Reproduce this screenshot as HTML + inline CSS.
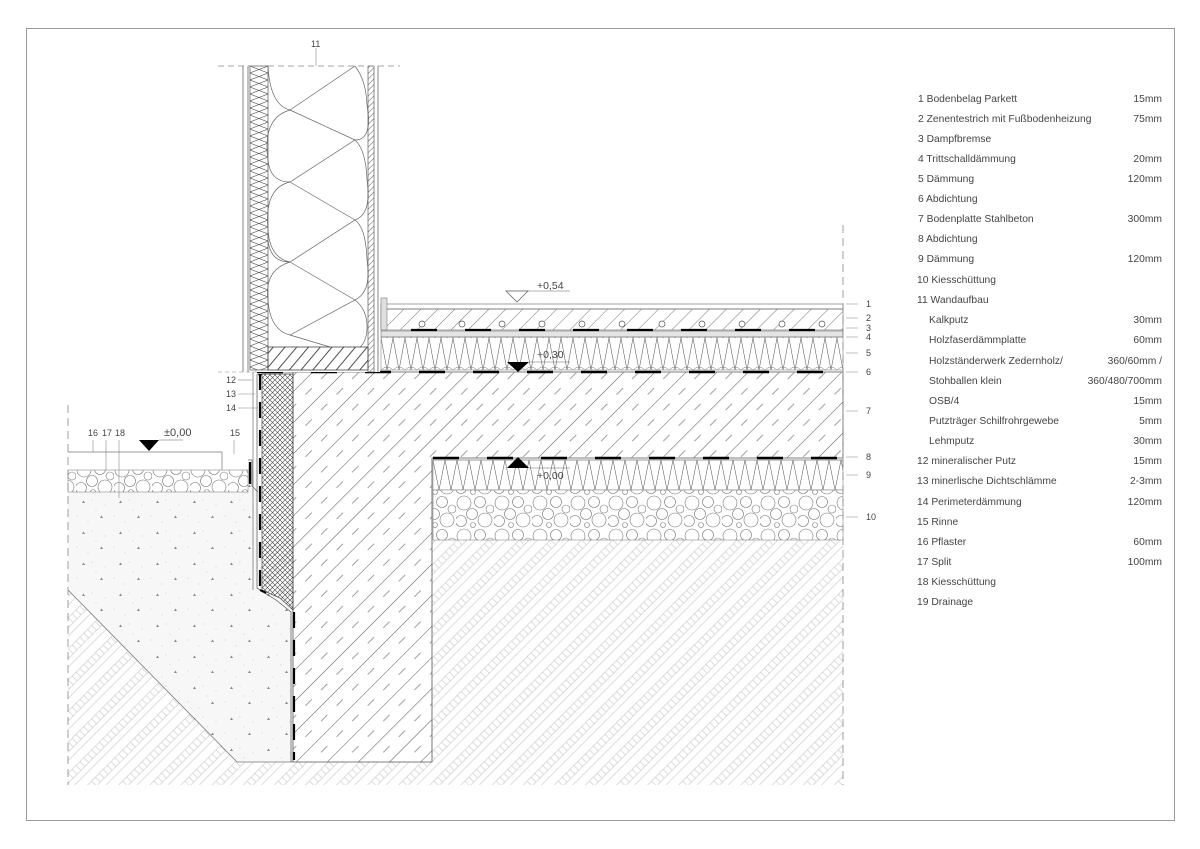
<!DOCTYPE html>
<html><head><meta charset="utf-8"><style>
html,body{margin:0;padding:0;background:#fff}
svg{display:block}
text{font-family:"Liberation Sans",sans-serif;fill:#444}
</style></head><body>
<svg width="1200" height="849" viewBox="0 0 1200 849" xmlns="http://www.w3.org/2000/svg">
<defs>
<pattern id="conc" patternUnits="userSpaceOnUse" width="22" height="22" patternTransform="rotate(-45)">
<line x1="0" y1="0" x2="22" y2="0" stroke="#555" stroke-width="0.9"/>
<line x1="3" y1="11" x2="12" y2="11" stroke="#777" stroke-width="0.7"/>
</pattern>
<pattern id="screed" patternUnits="userSpaceOnUse" width="12" height="12" patternTransform="rotate(-45)">
<line x1="0" y1="0" x2="12" y2="0" stroke="#555" stroke-width="0.8"/>
</pattern>
<pattern id="timber" patternUnits="userSpaceOnUse" width="9" height="9" patternTransform="rotate(-50)">
<line x1="0" y1="0" x2="9" y2="0" stroke="#222" stroke-width="1.6"/>
</pattern>
<pattern id="soil" patternUnits="userSpaceOnUse" width="22" height="22" patternTransform="rotate(-45)">
<line x1="0" y1="1" x2="22" y2="1" stroke="#bbb" stroke-width="0.6"/>
<line x1="0" y1="8" x2="22" y2="8" stroke="#bbb" stroke-width="0.6"/>
<line x1="2" y1="1" x2="2" y2="8" stroke="#bbb" stroke-width="0.5"/>
<line x1="7.5" y1="1" x2="7.5" y2="8" stroke="#bbb" stroke-width="0.5"/>
<line x1="13" y1="1" x2="13" y2="8" stroke="#bbb" stroke-width="0.5"/>
<line x1="18.5" y1="1" x2="18.5" y2="8" stroke="#bbb" stroke-width="0.5"/>
<line x1="0" y1="14" x2="22" y2="14" stroke="#bbb" stroke-width="0.6"/>
</pattern>
<pattern id="cross" patternUnits="userSpaceOnUse" width="5" height="5">
<path d="M0 0L5 5M5 0L0 5" stroke="#444" stroke-width="0.6"/>
</pattern>
<pattern id="ins" patternUnits="userSpaceOnUse" width="12" height="32" x="381" y="338">
<path d="M0 0L6 32L12 0" fill="none" stroke="#666" stroke-width="0.6"/>
<path d="M0 32Q6 26 12 32" fill="none" stroke="#777" stroke-width="0.5"/>
</pattern>
<pattern id="ins2" patternUnits="userSpaceOnUse" width="12" height="32" x="433" y="460">
<path d="M0 0L6 30L12 0" fill="none" stroke="#666" stroke-width="0.6"/>
</pattern>
<pattern id="gravel" patternUnits="userSpaceOnUse" width="38" height="33">
<g fill="#fff" stroke="#777" stroke-width="0.6">
<circle cx="8" cy="8" r="7"/><circle cx="24" cy="7" r="5.5"/><circle cx="34" cy="14" r="4"/>
<circle cx="16" cy="19" r="5.5"/><circle cx="5" cy="26" r="5.5"/><circle cx="29" cy="25" r="7"/><circle cx="17" cy="30" r="2.5"/>
</g></pattern>
<pattern id="fill" patternUnits="userSpaceOnUse" width="37" height="31">
<rect width="37" height="31" fill="#f7f7f7"/>
<path d="M8 7l1.5-2.5 1.5 2.5z M26 22l1.5-2.5 1.5 2.5z" fill="#888"/>
<circle cx="18" cy="4" r="0.5" fill="#bbb"/><circle cx="3" cy="20" r="0.5" fill="#bbb"/><circle cx="31" cy="9" r="0.5" fill="#bbb"/><circle cx="14" cy="26" r="0.5" fill="#bbb"/><circle cx="22" cy="14" r="0.5" fill="#bbb"/>
</pattern>
<pattern id="zig" patternUnits="userSpaceOnUse" width="18" height="14" x="250" y="66">
<path d="M0 0L18 7L0 14M18 0L0 7L18 14" fill="none" stroke="#555" stroke-width="0.6"/>
</pattern>
<pattern id="wallhatch" patternUnits="userSpaceOnUse" width="4" height="4" patternTransform="rotate(-45)">
<line x1="0" y1="0" x2="4" y2="0" stroke="#333" stroke-width="0.8"/>
</pattern>
</defs>

<rect x="26.5" y="28.5" width="1148" height="792" fill="none" stroke="#999" stroke-width="1"/>

<rect x="68" y="540" width="775" height="245" fill="url(#soil)"/>
<polygon points="68,492 248,492 248,470 258,470 260,585 293,600 293,762 237,762 68,590" fill="url(#fill)"/>
<line x1="68" y1="590" x2="237" y2="762" stroke="#777" stroke-width="0.8"/>
<line x1="237" y1="762" x2="293" y2="762" stroke="#777" stroke-width="0.8"/>

<polygon points="257,372 843,372 843,458 432,458 432,762 293,762 293,600 293,372" fill="#fff"/>
<polygon points="257,372 843,372 843,458 432,458 432,762 293,762 293,600 293,372" fill="url(#conc)" stroke="#555" stroke-width="0.8"/>
<polygon points="262,374 293,374 293,610 280,598 262,590" fill="url(#cross)" stroke="#444" stroke-width="0.7"/>
<line x1="260" y1="374" x2="260" y2="590" stroke="#000" stroke-width="2.2" stroke-dasharray="16,12"/>
<line x1="294" y1="612" x2="294" y2="760" stroke="#000" stroke-width="2.2" stroke-dasharray="16,12"/>
<path d="M257 374L257 588L276 600L291 612L291 762" fill="none" stroke="#555" stroke-width="0.7"/>
<path d="M253 372L253 590" stroke="#555" stroke-width="0.6"/>
<path d="M258 374l4 0 -2 4z" fill="#000"/>
<path d="M260 590l6 3" stroke="#000" stroke-width="2"/>

<rect x="433" y="460" width="410" height="30" fill="url(#ins2)" stroke="#777" stroke-width="0.5"/>
<rect x="433" y="490" width="410" height="50" fill="url(#gravel)" stroke="#777" stroke-width="0.5"/>
<line x1="433" y1="458" x2="843" y2="458" stroke="#000" stroke-width="2.4" stroke-dasharray="26,28"/>
<line x1="433" y1="460" x2="843" y2="460" stroke="#777" stroke-width="0.5"/>

<rect x="381" y="304" width="462" height="5" fill="#fff" stroke="#666" stroke-width="0.6"/>
<rect x="381" y="309" width="462" height="21" fill="url(#screed)" stroke="#666" stroke-width="0.6"/>
<g fill="#fff" stroke="#555" stroke-width="0.7">
<circle cx="422" cy="324" r="3"/><circle cx="462" cy="324" r="3"/><circle cx="502" cy="324" r="3"/><circle cx="542" cy="324" r="3"/><circle cx="582" cy="324" r="3"/><circle cx="622" cy="324" r="3"/><circle cx="662" cy="324" r="3"/><circle cx="702" cy="324" r="3"/><circle cx="742" cy="324" r="3"/><circle cx="782" cy="324" r="3"/><circle cx="822" cy="324" r="3"/>
</g>
<rect x="381" y="331" width="462" height="6" fill="#e4e4e4" stroke="#666" stroke-width="0.5"/>
<line x1="411" y1="330" x2="843" y2="330" stroke="#000" stroke-width="2.2" stroke-dasharray="26,28"/>
<rect x="381" y="337" width="462" height="33" fill="url(#ins)" stroke="#777" stroke-width="0.5"/>
<rect x="381" y="298" width="6" height="32" fill="#e0e0e0" stroke="#666" stroke-width="0.5"/>
<line x1="257" y1="372" x2="843" y2="372" stroke="#000" stroke-width="2.4" stroke-dasharray="26,28"/>

<rect x="243" y="66" width="137" height="306" fill="#fff"/>
<line x1="243" y1="66" x2="243" y2="372" stroke="#666" stroke-width="0.8"/>
<line x1="248" y1="66" x2="248" y2="372" stroke="#666" stroke-width="0.8"/>
<rect x="250" y="66" width="18" height="304" fill="url(#zig)" stroke="#555" stroke-width="0.7"/>
<g fill="none" stroke="#666" stroke-width="0.7">
<path d="M268 66 Q270 105 290 110 L355 66"/>
<path d="M290 110 Q262 118 268 160 Q270 182 290 182 L355 140 Q373 140 367 105 Q366 80 355 66"/>
<path d="M290 110 L355 140"/>
<path d="M290 182 Q264 188 268 230 Q270 258 290 262 L355 220 Q372 214 367 180 Q366 150 355 140"/>
<path d="M290 182 L355 220"/>
<path d="M268 230 Q266 262 290 262"/>
<path d="M290 262 Q264 270 268 300 Q270 330 290 335 L355 300 Q372 292 367 260 Q366 228 355 220"/>
<path d="M290 262 L355 300"/>
<path d="M290 335 L330 347 M355 300 Q368 310 367 330 Q366 342 360 347"/>
</g>
<rect x="268" y="347" width="100" height="23" fill="url(#timber)" stroke="#444" stroke-width="0.8"/>
<rect x="368" y="66" width="6" height="306" fill="url(#wallhatch)" stroke="#444" stroke-width="0.6"/>
<line x1="378" y1="66" x2="378" y2="372" stroke="#666" stroke-width="0.8"/>
<line x1="218" y1="66" x2="400" y2="66" stroke="#888" stroke-width="0.8" stroke-dasharray="6,4"/>
<line x1="316" y1="48" x2="316" y2="66" stroke="#888" stroke-width="0.6"/>
<text x="311" y="47" font-size="9">11</text>

<rect x="68" y="470" width="180" height="22" fill="url(#gravel)" stroke="#777" stroke-width="0.5"/>
<path d="M68 452L222 452L222 470" fill="none" stroke="#777" stroke-width="0.7"/>
<path d="M248 460L252 460L252 486L258 492" fill="none" stroke="#666" stroke-width="0.7"/>
<line x1="250" y1="462" x2="250" y2="484" stroke="#000" stroke-width="2.4"/>
<line x1="68" y1="405" x2="68" y2="785" stroke="#888" stroke-width="0.8" stroke-dasharray="8,5"/>
<line x1="843" y1="225" x2="843" y2="785" stroke="#888" stroke-width="0.8" stroke-dasharray="8,5"/>
<line x1="218" y1="372" x2="257" y2="372" stroke="#888" stroke-width="0.6" stroke-dasharray="4,3"/>

<g font-size="9">
<text x="88" y="436">16</text><text x="102" y="436">17</text><text x="115" y="436">18</text>
<text x="230" y="436">15</text>
<text x="226" y="383">12</text><text x="226" y="397">13</text><text x="226" y="411">14</text>
</g>
<g stroke="#888" stroke-width="0.6">
<line x1="93" y1="440" x2="93" y2="452"/><line x1="106" y1="440" x2="106" y2="470"/><line x1="119" y1="440" x2="119" y2="498"/>
<line x1="234" y1="440" x2="234" y2="454"/>
<line x1="238" y1="380" x2="252" y2="380"/><line x1="238" y1="394" x2="255" y2="394"/><line x1="238" y1="408" x2="258" y2="408"/>
</g>
<path d="M139 440L159 440L149 451z" fill="#000"/><line x1="159" y1="440" x2="183" y2="440" stroke="#666" stroke-width="0.6"/>
<text x="164" y="436" font-size="11" fill="#222">±0,00</text>
<path d="M506 291L528 291L517 302z" fill="#fff" stroke="#555" stroke-width="0.7"/><line x1="528" y1="291" x2="570" y2="291" stroke="#666" stroke-width="0.6"/>
<text x="537" y="289" font-size="10.5" fill="#222">+0,54</text>
<path d="M507 362L529 362L518 372z" fill="#000"/><line x1="529" y1="362" x2="570" y2="362" stroke="#666" stroke-width="0.6"/>
<text x="537" y="358" font-size="10.5" fill="#222">+0,30</text>
<path d="M507 468L529 468L518 457z" fill="#000"/><line x1="529" y1="468" x2="570" y2="468" stroke="#666" stroke-width="0.6"/>
<text x="537" y="479" font-size="10.5" fill="#222">+0,00</text>

<g stroke="#999" stroke-width="0.6">
<line x1="846" y1="304" x2="858" y2="304"/><line x1="846" y1="318" x2="858" y2="318"/><line x1="846" y1="328" x2="858" y2="328"/><line x1="846" y1="337" x2="858" y2="337"/><line x1="846" y1="353" x2="858" y2="353"/><line x1="846" y1="372" x2="858" y2="372"/><line x1="846" y1="411" x2="858" y2="411"/><line x1="846" y1="457" x2="858" y2="457"/><line x1="846" y1="475" x2="858" y2="475"/><line x1="846" y1="517" x2="858" y2="517"/>
</g>
<g font-size="9">
<text x="866" y="307">1</text><text x="866" y="321">2</text><text x="866" y="331">3</text><text x="866" y="340">4</text><text x="866" y="356">5</text><text x="866" y="375">6</text><text x="866" y="414">7</text><text x="866" y="460">8</text><text x="866" y="478">9</text><text x="866" y="520">10</text>
</g>

<g font-size="10.3" fill="#333">
<text x="918" y="102">1 Bodenbelag Parkett</text>
<text x="918" y="122">2 Zenentestrich mit Fußbodenheizung</text>
<text x="918" y="142">3 Dampfbremse</text>
<text x="918" y="162">4 Trittschalldämmung</text>
<text x="918" y="182">5 Dämmung</text>
<text x="918" y="202">6 Abdichtung</text>
<text x="918" y="222">7 Bodenplatte Stahlbeton</text>
<text x="918" y="242">8 Abdichtung</text>
<text x="918" y="262">9 Dämmung</text>
<text x="917" y="283">10 Kiesschüttung</text>
<text x="917" y="303">11 Wandaufbau</text>
<text x="929" y="323">Kalkputz</text>
<text x="929" y="343">Holzfaserdämmplatte</text>
<text x="929" y="364">Holzständerwerk Zedernholz/</text>
<text x="929" y="384">Stohballen klein</text>
<text x="929" y="404">OSB/4</text>
<text x="929" y="424">Putzträger Schilfrohrgewebe</text>
<text x="929" y="444">Lehmputz</text>
<text x="917" y="464">12 mineralischer Putz</text>
<text x="917" y="484">13 minerlische Dichtschlämme</text>
<text x="917" y="505">14 Perimeterdämmung</text>
<text x="917" y="525">15 Rinne</text>
<text x="917" y="545">16 Pflaster</text>
<text x="917" y="565">17 Split</text>
<text x="917" y="585">18 Kiesschüttung</text>
<text x="917" y="605">19 Drainage</text>
</g>
<g font-size="10.3" fill="#333" text-anchor="end">
<text x="1162" y="102">15mm</text>
<text x="1162" y="122">75mm</text>
<text x="1162" y="162">20mm</text>
<text x="1162" y="182">120mm</text>
<text x="1162" y="222">300mm</text>
<text x="1162" y="262">120mm</text>
<text x="1162" y="323">30mm</text>
<text x="1162" y="343">60mm</text>
<text x="1162" y="364">360/60mm /</text>
<text x="1162" y="384">360/480/700mm</text>
<text x="1162" y="404">15mm</text>
<text x="1162" y="424">5mm</text>
<text x="1162" y="444">30mm</text>
<text x="1162" y="464">15mm</text>
<text x="1162" y="484">2-3mm</text>
<text x="1162" y="505">120mm</text>
<text x="1162" y="545">60mm</text>
<text x="1162" y="565">100mm</text>
</g>
</svg>
</body></html>
